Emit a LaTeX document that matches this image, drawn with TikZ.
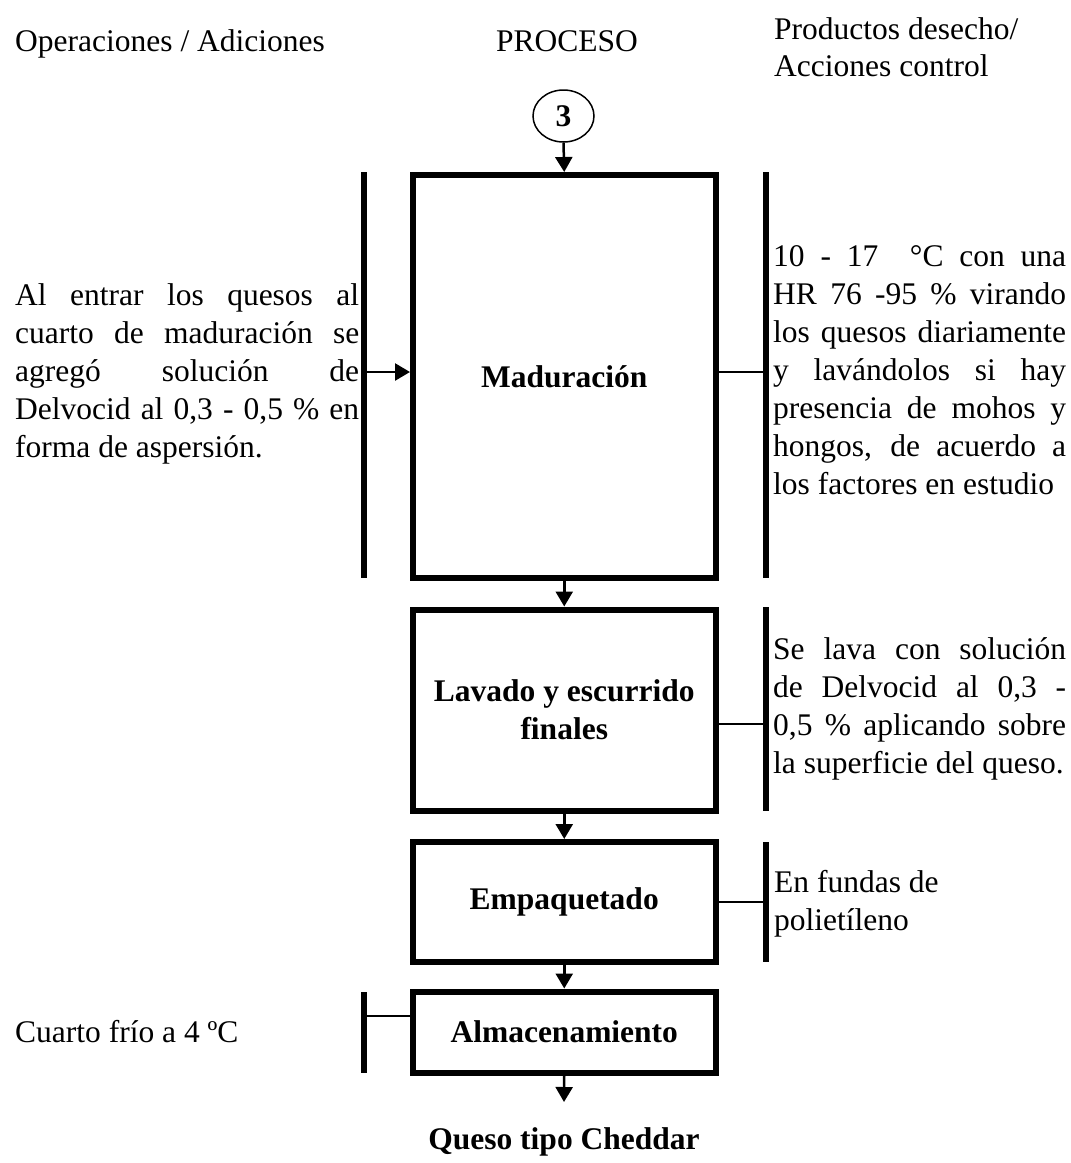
\documentclass[tikz,border=0pt]{standalone}
\usepackage{fontspec}
\setmainfont{Liberation Serif}
\usetikzlibrary{arrows.meta,shapes.geometric}

% one justified line of a fixed width, and one line at natural width
\newcommand\jline[2]{\hbox{\makebox[#1][s]{#2}}}
\newcommand\nline[1]{\hbox{#1}}

\begin{document}
\begin{tikzpicture}[x=1pt,y=-1pt,
  txt/.style={inner sep=0pt, font=\fontsize{31.5}{38}\selectfont},
  procbox/.style={draw, line width=6pt, inner sep=0pt, minimum width=302.5pt,
    font=\fontsize{31.5}{38}\selectfont\bfseries, align=center},
  bar/.style={line width=6pt},
  flow/.style={line width=2.5pt, -{Triangle[width=17pt,length=15pt]}},
  tie/.style={line width=1.5pt},
]
\useasboundingbox[fill=white] (0,0) rectangle (1071,1163);

% column headings
\node[txt, anchor=base west] (hops) at (15,51) {Operaciones / Adiciones};
\node[txt, anchor=base] (hproc) at (567,51) {PROCESO};
\node[txt, anchor=base west] (hctl) at (774,39)
  {\vtop{\baselineskip=37pt\nline{Productos desecho/}\nline{Acciones control}}};

% connector from the previous sheet
\node[draw, ellipse, line width=1.5pt, minimum width=61pt, minimum height=52pt,
  inner sep=0pt, font=\fontsize{31.5}{38}\selectfont\bfseries] (c3) at (563.5,116) {3};

% process steps
\node[procbox, minimum height=403pt] (madur) at (564.25,376.5) {Maduración};
\node[procbox, minimum height=201pt] (lavado) at (564.25,710) {Lavado y escurrido\\finales};
\node[procbox, minimum height=119.5pt] (empaq) at (564.25,901.75) {Empaquetado};
\node[procbox, minimum height=81pt] (almac) at (564.25,1032) {Almacenamiento};
\node[txt, font=\fontsize{31.5}{38}\selectfont\bfseries, anchor=base] (queso) at (564,1149) {Queso tipo Cheddar};
\coordinate (qtip) at (564,1102);

% main flow
\draw[flow] (c3.south) -- (madur.north);
\draw[flow] (madur.south) -- (lavado.north);
\draw[flow] (lavado.south) -- (empaq.north);
\draw[flow] (empaq.south) -- (almac.north);
\draw[flow] (almac.south) -- (qtip);

% side bars
\coordinate (mlt) at (364,172);  \coordinate (mlb) at (364,578);
\coordinate (mrt) at (766,172);  \coordinate (mrb) at (766,578);
\coordinate (lrt) at (766,607);  \coordinate (lrb) at (766,811);
\coordinate (ert) at (766,842);  \coordinate (erb) at (766,962);
\coordinate (alt) at (364,992);  \coordinate (alb) at (364,1073);
\draw[bar] (mlt) -- (mlb);
\draw[bar] (mrt) -- (mrb);
\draw[bar] (lrt) -- (lrb);
\draw[bar] (ert) -- (erb);
\draw[bar] (alt) -- (alb);

% ties between bars and steps
\coordinate (madd) at (367,372);
\draw[flow] (madd) -- (madd -| madur.west);
\coordinate (mctl) at (763,372);
\draw[tie] (mctl -| madur.east) -- (mctl);
\coordinate (lctl) at (763,724);
\draw[tie] (lctl -| lavado.east) -- (lctl);
\coordinate (ectl) at (763,902);
\draw[tie] (ectl -| empaq.east) -- (ectl);
\coordinate (aadd) at (367,1016);
\draw[tie] (aadd) -- (aadd -| almac.west);

% side notes
\node[txt, anchor=base west] (nmadd) at (15,305) {\vtop{%
  \jline{344pt}{Al entrar los quesos al}
  \jline{344pt}{cuarto de maduración se}
  \jline{344pt}{agregó solución de}
  \jline{344pt}{Delvocid al 0,3 - 0,5 \% en}
  \nline{forma de aspersión.}}};

\node[txt, anchor=base west] (nmctl) at (773,266) {\vtop{%
  \jline{293pt}{10 - 17~ °C con una}
  \jline{293pt}{HR 76 -95 \% virando}
  \jline{293pt}{los quesos diariamente}
  \jline{293pt}{y lavándolos si hay}
  \jline{293pt}{presencia de mohos y}
  \jline{293pt}{hongos, de acuerdo a}
  \nline{los factores en estudio}}};

\node[txt, anchor=base west] (nlctl) at (773,659) {\vtop{%
  \jline{293pt}{Se lava con solución}
  \jline{293pt}{de Delvocid al 0,3 -}
  \jline{293pt}{0,5 \% aplicando sobre}
  \nline{la superficie del queso.}}};

\node[txt, anchor=base west] (nectl) at (774,892) {\vtop{%
  \nline{En fundas de}
  \nline{polietíleno}}};

\node[txt, anchor=base west] (naadd) at (15,1042) {Cuarto frío a 4 ºC};
\end{tikzpicture}
\end{document}
